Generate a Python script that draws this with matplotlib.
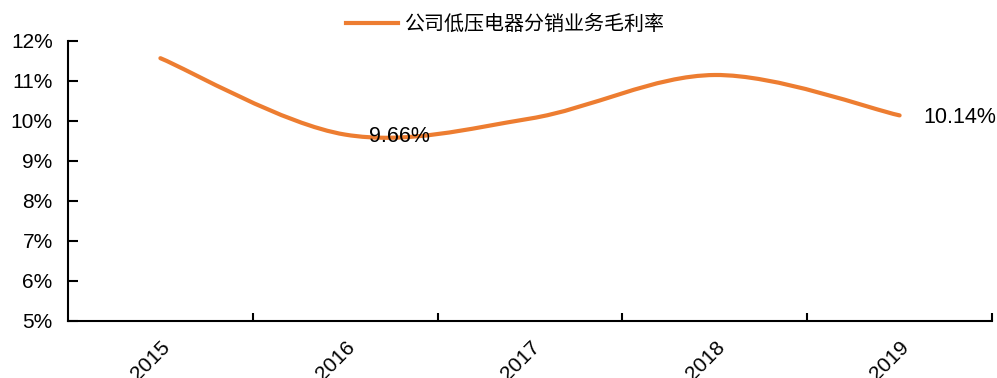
import matplotlib
matplotlib.use("Agg")
import matplotlib.pyplot as plt
from matplotlib.path import Path
from matplotlib.patches import PathPatch
from matplotlib.lines import Line2D
import numpy as np

plt.rcParams['font.family'] = ['Liberation Sans', 'Noto Sans CJK SC', 'DejaVu Sans']

years = ["2015", "2016", "2017", "2018", "2019"]
margin = [11.57, 9.66, 10.06, 11.15, 10.14]
series_name = "公司低压电器分销业务毛利率"
labelled = {1: "9.66%", 4: "10.14%"}
yticks = [5, 6, 7, 8, 9, 10, 11, 12]

color = "#ED7D31"
fig = plt.figure(figsize=(9.97, 3.78), dpi=100)
ax = fig.add_axes([68/997, 1-321/378, (992-68)/997, (321-41)/378])

x = np.arange(len(years), dtype=float)
y = np.array(margin)
# smoothed line (Catmull-Rom as cubic Bezier)
P = np.column_stack([x, y])
Pe = np.vstack([P[0], P, P[-1]])
verts = [tuple(P[0])]
codes = [Path.MOVETO]
for i in range(len(P) - 1):
    p0, p1, p2, p3 = Pe[i], Pe[i+1], Pe[i+2], Pe[i+3]
    c1 = p1 + (p2 - p0) / 6
    c2 = p2 - (p3 - p1) / 6
    verts += [tuple(c1), tuple(c2), tuple(p2)]
    codes += [Path.CURVE4] * 3
patch = PathPatch(Path(verts, codes), facecolor='none', edgecolor=color,
                  lw=3.0, capstyle='round', zorder=3)
ax.add_patch(patch)

for i, txt in labelled.items():
    ax.annotate(txt, (x[i], y[i]), xytext=(24/100*72, -1.5), textcoords='offset points',
                ha='left', va='center', fontsize=15.5, color='black', zorder=4)

ax.set_xlim(-0.5, len(years) - 0.5)
ax.set_ylim(5, 12)
ax.set_yticks(yticks)
ax.set_yticklabels([f"{v}%" for v in yticks], fontsize=15)
ax.set_xticks(x)
ax.set_xticklabels(years, rotation=45, ha='right', va='top', fontsize=15,
                   rotation_mode='anchor')
ax.set_xticks(np.arange(len(years)) + 0.5, minor=True)
ax.tick_params(axis='x', which='major', length=0, pad=12)
ax.tick_params(axis='x', which='minor', length=6, width=1.5, direction='in')
ax.tick_params(axis='y', length=7, width=1.5, direction='in', pad=11)
for s in ['top', 'right']:
    ax.spines[s].set_visible(False)
for s in ['left', 'bottom']:
    ax.spines[s].set_linewidth(1.5)

handle = Line2D([], [], color=color, lw=3.0)
fig.legend([handle], [series_name], loc='upper center', bbox_to_anchor=(0.507, 1.01),
           frameon=False, handlelength=2.6, handletextpad=0.35,
           prop={'family': ['Noto Sans CJK SC', 'DejaVu Sans'], 'size': 14.4})

fig.savefig("out.png", dpi=100)
